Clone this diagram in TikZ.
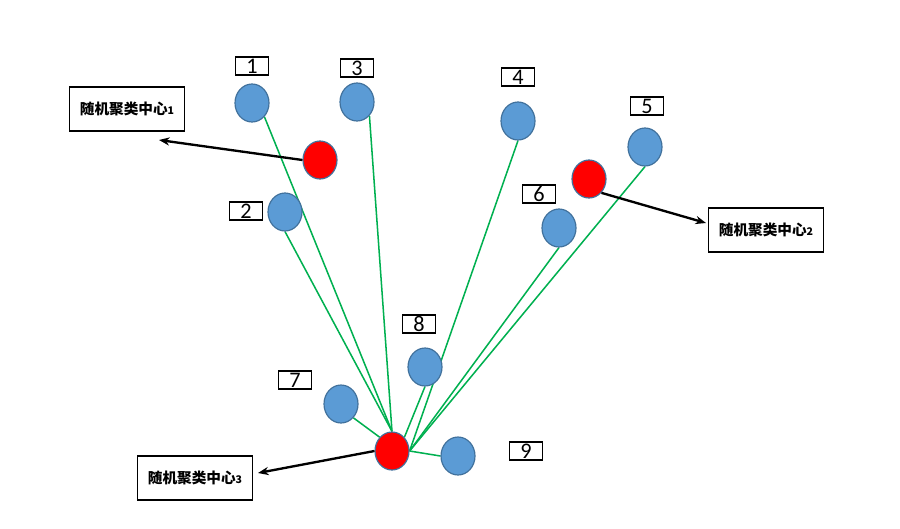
\documentclass[tikz,border=0pt]{standalone}
\usepackage{fontspec}
\setmainfont{Carlito}
\newfontfamily\cjk{Noto Sans CJK SC}
\usetikzlibrary{shapes.geometric,arrows.meta,backgrounds}

\definecolor{pointblue}{HTML}{5B9BD5}
\definecolor{pointedge}{HTML}{41719C}
\definecolor{linkgreen}{HTML}{00B050}

\begin{document}
\begin{tikzpicture}[x=0.03cm, y=-0.03cm,
            point/.style={
                ellipse,
                draw=pointedge,
                line width=1pt,
                fill=pointblue,
                minimum width=1.02cm,
                minimum height=1.14cm,
                inner sep=0pt
            },
            center/.style={
                point,
                fill=red
            },
            tag/.style={
                draw,
                line width=1.2pt,
                minimum width=0.99cm,
                minimum height=0.54cm,
                inner sep=0pt,
                font=\fontsize{19}{19}\selectfont
            },
            namebox/.style={
                draw,
                line width=1.2pt,
                minimum width=3.45cm,
                minimum height=1.32cm,
                inner sep=0pt,
                font=\cjk\bfseries\fontsize{12.5}{14}\selectfont
            },
            link/.style={
                draw=linkgreen,
                line width=1.3pt
            },
            pointer/.style={
                draw=black,
                line width=2pt,
                -{Stealth[length=9pt,width=7pt]}
            }
        ]

        \useasboundingbox (0,0) rectangle (900,528);

        % Sample points (blue)
        \node[point] (p1) at (252,103) {};
        \node[point] (p2) at (285,212) {};
        \node[point] (p3) at (357,102) {};
        \node[point] (p4) at (518,121) {};
        \node[point] (p5) at (645,147) {};
        \node[point] (p6) at (559,228) {};
        \node[point] (p7) at (341,404) {};
        \node[point] (p8) at (425,367) {};
        \node[point] (p9) at (458,456) {};

        % Point numbers
        \node[tag] (t1) at (252,66) {1};
        \node[tag] (t2) at (246,211) {2};
        \node[tag] (t3) at (357,68) {3};
        \node[tag] (t4) at (518,77) {4};
        \node[tag] (t5) at (647,106) {5};
        \node[tag] (t6) at (539,194) {6};
        \node[tag] (t7) at (295,380) {7};
        \node[tag] (t8) at (419,324) {8};
        \node[tag] (t9) at (526,451) {9};

        % Random cluster centres (red)
        \node[center] (c1) at (320,160) {};
        \node[center] (c2) at (589,179) {};
        \node[center] (c3) at (392,451) {};

        % Name boxes
        \node[namebox] (name1) at (127,109) {随机聚类中心{\small 1}};
        \node[namebox] (name2) at (766,230) {随机聚类中心{\small 2}};
        \node[namebox] (name3) at (195,478) {随机聚类中心{\small 3}};

        \coordinate (tip1) at (159,140);
        \coordinate (tip2) at (706,223);
        \coordinate (tip3) at (258,473);

        % Links from centre 3, behind the points
        \begin{pgfonlayer}{background}
            \draw[link] (c3.north) -- (p1.south east);
            \draw[link] (c3.north) -- (p2.south);
            \draw[link] (c3.north) -- (p3.south east);
            \draw[link] (c3.east) -- (p4.south);
            \draw[link] (c3.east) -- (p5.south);
            \draw[link] (c3.east) -- (p6.south);
            \draw[link] (c3.north west) -- (p7.south east);
            \draw[link] (c3.north east) -- (p8.south);
            \draw[link] (c3.east) -- (p9.west);
        \end{pgfonlayer}

        % Pointers to the name boxes
        \draw[pointer] (c1.west) -- (tip1);
        \draw[pointer] (c2.south east) -- (tip2);
        \draw[pointer] (c3.west) -- (tip3);
\end{tikzpicture}
\end{document}
